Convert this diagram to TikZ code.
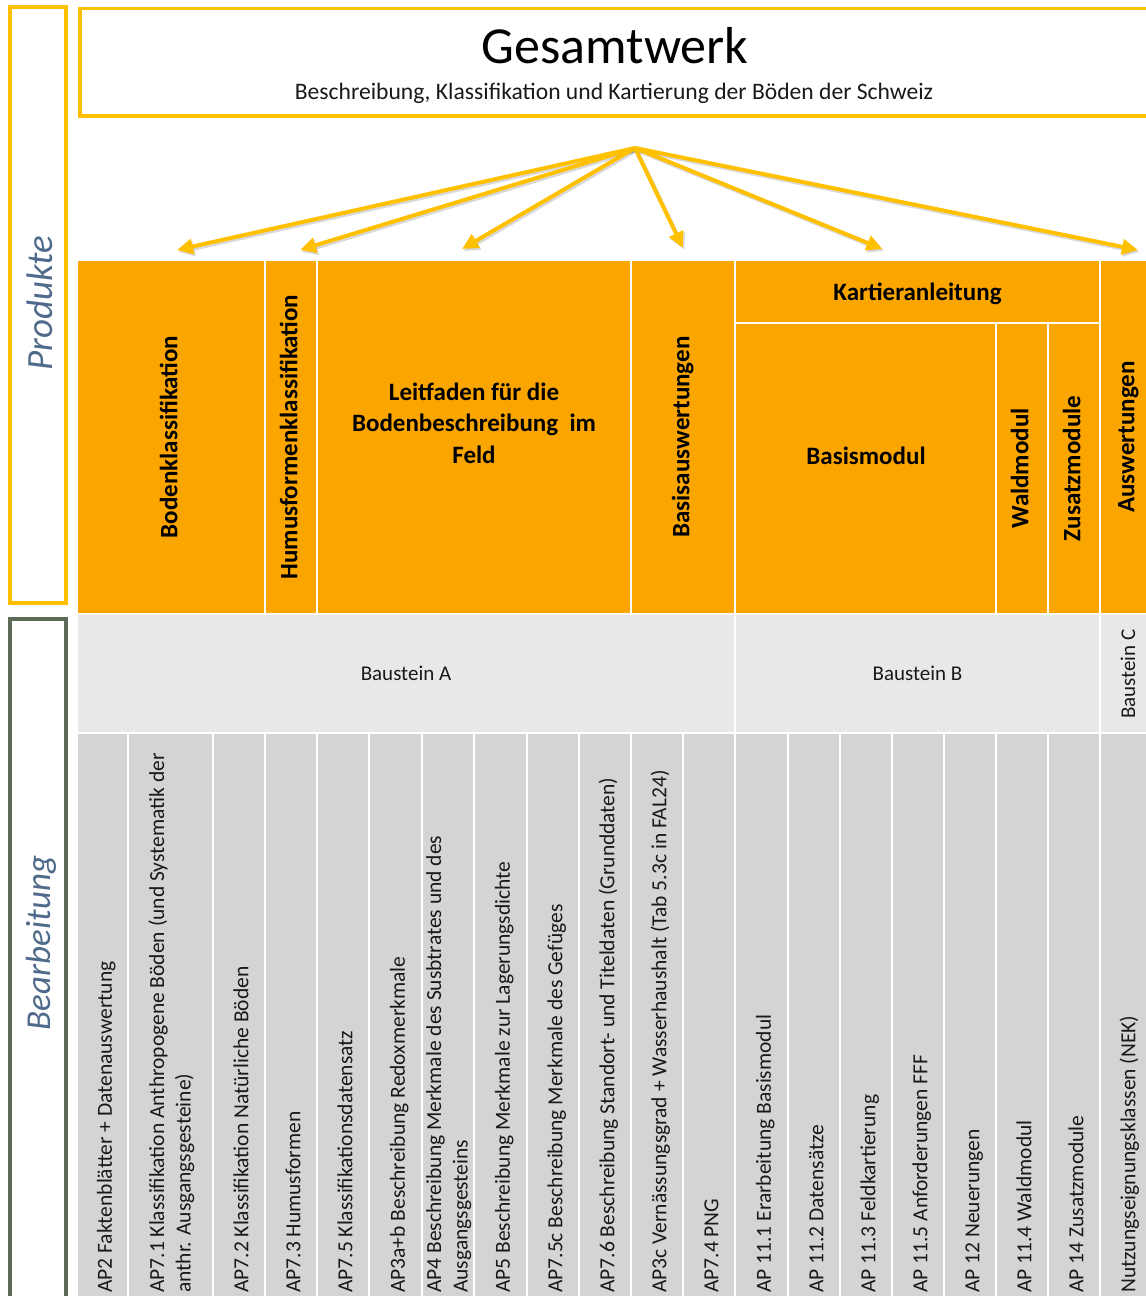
\documentclass[tikz,border=0pt]{standalone}
\usepackage{fontspec}
\setmainfont{Carlito}
\usetikzlibrary{arrows.meta,calc}
\definecolor{orng}{HTML}{FAA500}
\definecolor{bandgray}{HTML}{E8E8E8}
\definecolor{cellgray}{HTML}{D3D5D2}
\definecolor{ylw}{HTML}{FFC000}
\definecolor{olivegray}{HTML}{5B6B58}
\definecolor{slateblue}{HTML}{4F6A8A}
\newcommand\mycell[6]{%
  \pgfmathsetmacro\cw{#4-#2}%
  \pgfmathsetmacro\ch{#5-#3}%
  \node[#6, minimum width=\cw pt, minimum height=\ch pt] (#1) at ({(#2+#4)/2},{(#3+#5)/2}) {};}
\tikzset{
  hdr/.style={fill=orng, draw=white, line width=2pt, inner sep=0pt, outer sep=0pt},
  bandcell/.style={fill=bandgray, draw=white, line width=2pt, inner sep=0pt, outer sep=0pt},
  apcell/.style={fill=cellgray, draw=white, line width=2pt, inner sep=0pt, outer sep=0pt},
  hdrtext/.style={font=\fontsize{25}{31.5}\selectfont\bfseries, text=black, inner sep=0pt, align=center},
  vhdr/.style={hdrtext, rotate=90, execute at begin node=\strut},
  aptext/.style={font=\fontsize{21.5}{26.5}\selectfont, text=black!90, rotate=90, anchor=west, inner sep=0pt, align=left, execute at begin node=\strut},
  bausttext/.style={font=\fontsize{21}{26}\selectfont, text=black!90, inner sep=0pt},
  sidelabel/.style={text=slateblue, rotate=90, anchor=base, inner sep=0pt},
  arr/.style={draw=ylw, line width=4pt, -{Triangle[length=16pt,width=15pt]}},
  arrshadow/.style={draw=black, opacity=0.15, line width=4pt, -{Triangle[length=16pt,width=15pt]}, transform canvas={shift={(1.5pt,-2pt)}}},
}
\begin{document}
\begin{tikzpicture}[x=1pt,y=-1pt]
\useasboundingbox (0,0) rectangle (1146,1296);
\clip (0,0) rectangle (1146,1296);

% side frames
\node[draw=ylw, line width=4pt, minimum width=56pt, minimum height=595.5pt, inner sep=0pt] (prodbox) at (37.5,304.75) {};
\node[draw=olivegray, line width=4.5pt, minimum width=56pt, minimum height=700pt, inner sep=0pt, anchor=north] (bearbox) at (37.8,616.5) {};
\node[sidelabel, font=\fontsize{37}{44}\selectfont\itshape] (prodlbl) at (52,303) {Produkte};
\node[sidelabel, font=\fontsize{35}{42}\selectfont\itshape] (bearlbl) at (50,943) {Bearbeitung};

% title box
\node[draw=ylw, line width=3.5pt, minimum width=1100pt, minimum height=107.6pt, inner sep=0pt, anchor=north west] (titlebox) at (78,6.7) {};
\node[font=\fontsize{52}{60}\selectfont, anchor=base, inner sep=0pt] (title) at (615,63) {Gesamtwerk};
\node[font=\fontsize{23.6}{28}\selectfont, anchor=base, inner sep=0pt, text=black!90] (subtitle) at (614,99) {Beschreibung, Klassifikation und Kartierung der Böden der Schweiz};

% product header cells
\mycell{bk}{77}{260}{265}{614}{hdr}
\mycell{hf}{265}{260}{317}{614}{hdr}
\mycell{lf}{317}{260}{631}{614}{hdr}
\mycell{ba}{631}{260}{735}{614}{hdr}
\mycell{ka}{735}{260}{1100}{323}{hdr}
\mycell{bm}{735}{323}{996}{614}{hdr}
\mycell{wm}{996}{323}{1048}{614}{hdr}
\mycell{zm}{1048}{323}{1100}{614}{hdr}
\mycell{aw}{1100}{260}{1160}{614}{hdr}

\node[vhdr] (bkt) at (bk.center) {Bodenklassifikation};
\node[vhdr] (hft) at (hf.center) {Humusformenklassifikation};
\node[hdrtext] (lft) at (474,423) {Leitfaden für die\\Bodenbeschreibung\ \ im\\Feld};
\node[vhdr] (bat) at (ba.center) {Basisauswertungen};
\node[hdrtext, anchor=base] (kat) at (917.5,300) {Kartieranleitung};
\node[hdrtext, anchor=base] (bmt) at (866,464) {Basismodul};
\node[vhdr] (wmt) at (wm.center) {Waldmodul};
\node[vhdr] (zmt) at (zm.center) {Zusatzmodule};
\node[vhdr] (awt) at (1128,437) {Auswertungen};

% Baustein band
\mycell{bA}{77}{614}{735}{733}{bandcell}
\mycell{bB}{735}{614}{1100}{733}{bandcell}
\mycell{bC}{1100}{614}{1160}{733}{bandcell}
\node[bausttext] (bAt) at (406,675) {\strut Baustein A};
\node[bausttext] (bBt) at (917.5,675) {\strut Baustein B};
\node[bausttext, rotate=90] (bCt) at (1130,674) {\strut Baustein C};

% work package cells
\coordinate (tb) at (0,1293);
\mycell{c1}{77}{733}{128}{1320}{apcell}
\mycell{c2}{128}{733}{213}{1320}{apcell}
\mycell{c3}{213}{733}{265}{1320}{apcell}
\mycell{c4}{265}{733}{317}{1320}{apcell}
\mycell{c5}{317}{733}{369}{1320}{apcell}
\mycell{c6}{369}{733}{422}{1320}{apcell}
\mycell{c7}{422}{733}{474}{1320}{apcell}
\mycell{c8}{474}{733}{527}{1320}{apcell}
\mycell{c9}{527}{733}{579}{1320}{apcell}
\mycell{c10}{579}{733}{631}{1320}{apcell}
\mycell{c11}{631}{733}{683}{1320}{apcell}
\mycell{c12}{683}{733}{735}{1320}{apcell}
\mycell{c13}{735}{733}{788}{1320}{apcell}
\mycell{c14}{788}{733}{840}{1320}{apcell}
\mycell{c15}{840}{733}{892}{1320}{apcell}
\mycell{c16}{892}{733}{944}{1320}{apcell}
\mycell{c17}{944}{733}{996}{1320}{apcell}
\mycell{c18}{996}{733}{1048}{1320}{apcell}
\mycell{c19}{1048}{733}{1100}{1320}{apcell}
\mycell{c20}{1100}{733}{1160}{1320}{apcell}

\node[aptext] (c1t) at ([xshift=4pt]c1.center |- tb) {AP2 Faktenblätter + Datenauswertung};
\node[aptext] (c2t) at ([xshift=3pt]c2.center |- tb) {AP7.1 Klassifikation Anthropogene Böden (und Systematik der\\anthr. Ausgangsgesteine)};
\node[aptext] (c3t) at ([xshift=4pt]c3.center |- tb) {AP7.2 Klassifikation Natürliche Böden};
\node[aptext] (c4t) at ([xshift=4pt]c4.center |- tb) {AP7.3 Humusformen};
\node[aptext] (c5t) at ([xshift=4pt]c5.center |- tb) {AP7.5 Klassifikationsdatensatz};
\node[aptext] (c6t) at ([xshift=4pt]c6.center |- tb) {AP3a+b Beschreibung Redoxmerkmale};
\node[aptext] (c7t) at ([xshift=3pt]c7.center |- tb) {AP4 Beschreibung Merkmale des Susbtrates und des\\Ausgangsgesteins};
\node[aptext] (c8t) at ([xshift=4pt]c8.center |- tb) {AP5 Beschreibung Merkmale zur Lagerungsdichte};
\node[aptext] (c9t) at ([xshift=4pt]c9.center |- tb) {AP7.5c Beschreibung Merkmale des Gefüges};
\node[aptext] (c10t) at ([xshift=4pt]c10.center |- tb) {AP7.6 Beschreibung Standort- und Titeldaten (Grunddaten)};
\node[aptext] (c11t) at ([xshift=4pt]c11.center |- tb) {AP3c Vernässungsgrad + Wasserhaushalt (Tab 5.3c in FAL24)};
\node[aptext] (c12t) at ([xshift=4pt]c12.center |- tb) {AP7.4 PNG};
\node[aptext] (c13t) at ([xshift=4pt]c13.center |- tb) {AP 11.1 Erarbeitung Basismodul};
\node[aptext] (c14t) at ([xshift=4pt]c14.center |- tb) {AP 11.2 Datensätze};
\node[aptext] (c15t) at ([xshift=4pt]c15.center |- tb) {AP 11.3 Feldkartierung};
\node[aptext] (c16t) at ([xshift=4pt]c16.center |- tb) {AP 11.5 Anforderungen FFF};
\node[aptext] (c17t) at ([xshift=4pt]c17.center |- tb) {AP 12 Neuerungen};
\node[aptext] (c18t) at ([xshift=4pt]c18.center |- tb) {AP 11.4 Waldmodul};
\node[aptext] (c19t) at ([xshift=4pt]c19.center |- tb) {AP 14 Zusatzmodule};
\node[aptext] (c20t) at (1130,1293) {Nutzungseignungsklassen (NEK)};

% arrows from the title to the products
\coordinate (hub) at (635,148);
\coordinate (t1) at ([xshift=6pt,yshift=10pt]bk.north);
\coordinate (t2) at ([xshift=9pt,yshift=10pt]hf.north);
\coordinate (t3) at ([xshift=-12pt,yshift=11pt]lf.north);
\coordinate (t4) at ([xshift=0pt,yshift=12pt]ba.north);
\coordinate (t5) at ([xshift=-35pt,yshift=11pt]ka.north);
\coordinate (t6) at (1138,250);
\foreach \t in {t1,t2,t3,t4,t5,t6} {
  \draw[arrshadow] (hub) -- (\t);
}
\foreach \t in {t1,t2,t3,t4,t5,t6} {
  \draw[arr] (hub) -- (\t);
}
\end{tikzpicture}
\end{document}
